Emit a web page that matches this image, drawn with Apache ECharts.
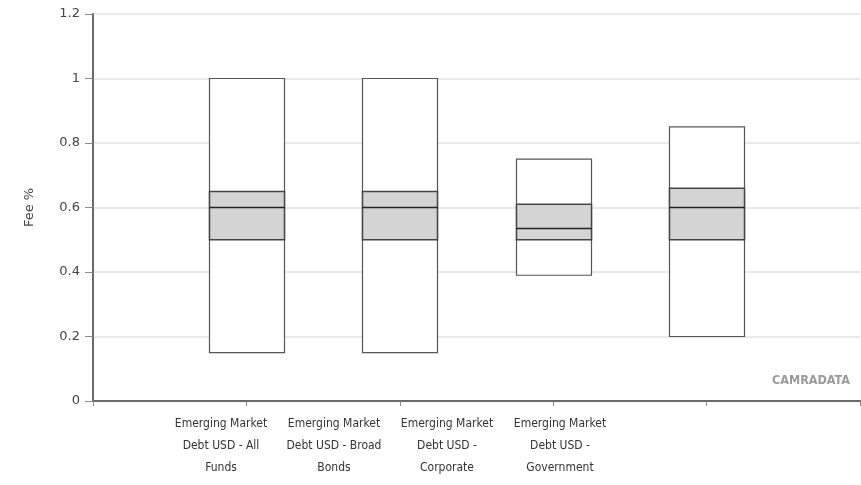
<!DOCTYPE html>
<html><head><meta charset="utf-8">
<script src="https://cdn.jsdelivr.net/npm/echarts@6/dist/echarts.min.js"></script>
<style>html,body{margin:0;padding:0;background:#fff}#c{width:861px;height:485px}</style>
</head><body><div id="c"></div>
<script>
var categories = ['Emerging Market\nDebt USD - All\nFunds','Emerging Market\nDebt USD - Broad\nBonds','Emerging Market\nDebt USD -\nCorporate','Emerging Market\nDebt USD -\nGovernment'];
var minVals = [0.15, 0.15, 0.39, 0.20];
var q1Vals = [0.50, 0.50, 0.50, 0.50];
var medianVals = [0.60, 0.60, 0.535, 0.60];
var q3Vals = [0.65, 0.65, 0.61, 0.66];
var maxVals = [1.00, 1.00, 0.75, 0.85];
var yTicks = [0, 0.2, 0.4, 0.6, 0.8, 1, 1.2];

var slotCats = [''].concat(categories).concat(['']);
var data = categories.map(function(c, i){ return [i+1, minVals[i], q1Vals[i], medianVals[i], q3Vals[i], maxVals[i]]; });
var FONT = '"DejaVu Sans", sans-serif';
var COND = '"DejaVu Sans Condensed", sans-serif';
var chart = echarts.init(document.getElementById('c'));
chart.setOption({
  animation:false,
  grid:[{left:93, right:1, top:14, bottom:84},{left:164.5, width:452, top:14, bottom:84}],
  xAxis:[{
    type:'category', gridIndex:0, data:slotCats, boundaryGap:false,
    axisLine:{lineStyle:{color:'#6a6a6a', width:2}},
    axisTick:{show:true, length:5, lineStyle:{color:'#888'}},
    axisLabel:{show:false}, splitLine:{show:false}
  },{
    type:'category', gridIndex:1, data:categories, boundaryGap:true,
    axisLine:{show:false}, axisTick:{show:false}, splitLine:{show:false},
    axisLabel:{interval:0, margin:12, fontSize:12, lineHeight:22, color:'#333', fontFamily:COND}
  }],
  yAxis:[{
    type:'value', gridIndex:0, min:0, max:1.2, interval:0.2,
    name:'Fee %', nameLocation:'middle', nameGap:57, nameTextStyle:{fontSize:13, color:'#444', fontFamily:FONT},
    axisLine:{show:true, lineStyle:{color:'#6a6a6a', width:2}},
    axisTick:{show:true, length:8, lineStyle:{color:'#888'}},
    axisLabel:{margin:13, fontSize:13, color:'#444', fontFamily:FONT, formatter:function(v){return String(Math.round(v*10)/10);}},
    splitLine:{lineStyle:{color:'#e2e2e2', width:1.5}}
  },{
    type:'value', gridIndex:1, min:0, max:1.2, show:false
  }],
  graphic:[{type:'text', right:11, top:374, style:{text:'CAMRADATA', fill:'#9a9a9a', font:'bold 12.5px '+COND}}],
  series:[{
    type:'custom', xAxisIndex:0, yAxisIndex:0, data:data,
    renderItem:function(params, api){
      var x = api.value(0);
      var w = api.size([1,0])[0]*0.49;
      var pMin = api.coord([x, api.value(1)]);
      var pQ1 = api.coord([x, api.value(2)]);
      var pMed = api.coord([x, api.value(3)]);
      var pQ3 = api.coord([x, api.value(4)]);
      var pMax = api.coord([x, api.value(5)]);
      var x0 = Math.round(pMin[0]-w/2)+0.5, x1 = Math.round(pMin[0]+w/2)+0.5;
      return {type:'group', children:[
        {type:'rect', shape:{x:x0, y:pMax[1], width:x1-x0, height:pMin[1]-pMax[1]}, style:{fill:'#fff', stroke:'#555', lineWidth:1.2}},
        {type:'rect', shape:{x:x0, y:pQ3[1], width:x1-x0, height:pQ1[1]-pQ3[1]}, style:{fill:'#d4d4d4', stroke:'#444', lineWidth:1.5}},
        {type:'line', shape:{x1:x0, y1:pMed[1], x2:x1, y2:pMed[1]}, style:{stroke:'#222', lineWidth:1.6}}
      ]};
    }
  }]
});
</script></body></html>
